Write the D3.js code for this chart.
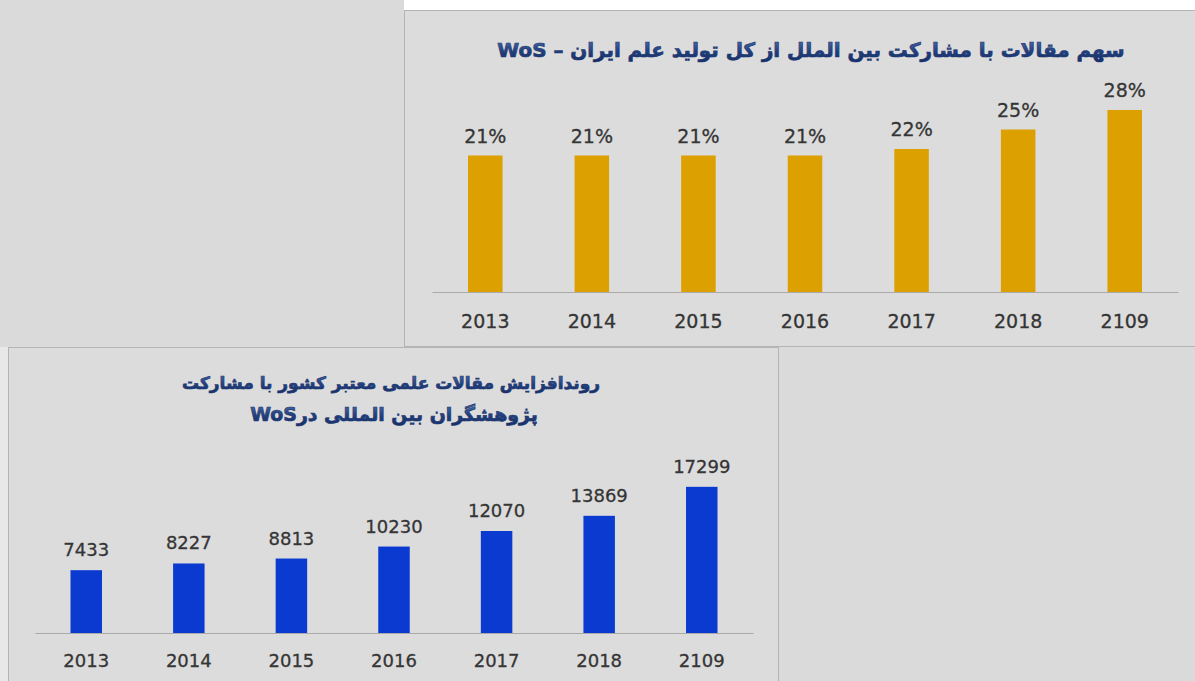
<!DOCTYPE html>
<html>
<head>
<meta charset="utf-8">
<script src="https://cdn.jsdelivr.net/npm/d3@7"></script>
<style>
  html, body { margin: 0; padding: 0; background: #dadada; }
  svg { display: block; }
  .tick text, .val { font-family: "DejaVu Sans", sans-serif; fill: #353535; stroke: #353535; stroke-width: 0.3; }
  .title { font-family: "DejaVu Sans", sans-serif; font-weight: bold; stroke: #1d3872; stroke-width: 0.7; }
</style>
</head>
<body>
<svg width="1195" height="681"></svg>
<script>
// data
const years = ["2013", "2014", "2015", "2016", "2017", "2018", "2109"];
const shareValues = [0.21, 0.21, 0.21, 0.21, 0.22, 0.25, 0.28];
const articleCounts = [7433, 8227, 8813, 10230, 12070, 13869, 17299];

const topTitle = "سهم مقالات با مشارکت بین الملل از کل تولید علم ایران – WoS";
const bottomTitle = [
  "روندافزایش  مقالات علمی معتبر کشور با مشارکت",
  "پژوهشگران بین المللی درWoS"
];

const svg = d3.select("svg");

// title gradient
const grad = svg.append("defs").append("linearGradient")
  .attr("id", "titleGrad")
  .attr("x1", 0).attr("y1", 0).attr("x2", 0).attr("y2", 1);
grad.append("stop").attr("offset", "0%").attr("stop-color", "#4f6fae");
grad.append("stop").attr("offset", "55%").attr("stop-color", "#223f7c");
grad.append("stop").attr("offset", "100%").attr("stop-color", "#162e66");

// backdrop and panels
svg.append("rect").attr("width", 1195).attr("height", 681).attr("fill", "#dadada");
svg.append("rect").attr("x", 404).attr("y", 0).attr("width", 791).attr("height", 10).attr("fill", "#ffffff");
svg.append("rect").attr("x", 0).attr("y", 347).attr("width", 8).attr("height", 334).attr("fill", "#e8e8e8");

svg.append("rect")
  .attr("x", 404.5).attr("y", 10.5).attr("width", 800).attr("height", 336)
  .attr("fill", "#dcdcdc").attr("stroke", "#b4b4b4");
svg.append("rect")
  .attr("x", 8.5).attr("y", 347.5).attr("width", 770).attr("height", 340)
  .attr("fill", "#dcdcdc").attr("stroke", "#b4b4b4");

// fit a title to a wanted width by its font size
function fitTitle(sel, width, base) {
  sel.attr("font-size", base);
  const len = sel.node().getComputedTextLength();
  sel.attr("font-size", (base * width) / len);
}

// ---- top chart: share of international collaboration
const x1 = d3.scaleBand().domain(years).range([432, 1178])
  .paddingInner(0.676).paddingOuter(0.338);
const y1 = d3.scaleLinear().domain([0, 0.30]).range([292, 97]);
const pct = d3.format(".0%");

const g1 = svg.append("g");

g1.selectAll(".bar")
  .data(years.map((d, i) => ({ year: d, v: shareValues[i] })))
  .enter()
  .append("rect")
  .attr("class", "bar")
  .attr("x", (d) => x1(d.year))
  .attr("y", (d) => y1(d.v))
  .attr("width", x1.bandwidth())
  .attr("height", (d) => y1(0) - y1(d.v))
  .attr("fill", "#dca000");

g1.append("g")
  .attr("transform", `translate(0,${y1(0)})`)
  .call(d3.axisBottom(x1).tickSize(0).tickPadding(23))
  .call((a) => a.select(".domain").attr("stroke", "#a9a9a9"))
  .selectAll("text")
  .attr("font-size", 19);

g1.selectAll(".val")
  .data(years.map((d, i) => ({ year: d, v: shareValues[i] })))
  .enter()
  .append("text")
  .attr("class", "val")
  .attr("x", (d) => x1(d.year) + x1.bandwidth() / 2)
  .attr("y", (d) => y1(d.v) - 13)
  .attr("text-anchor", "middle")
  .attr("font-size", 19)
  .text((d) => pct(d.v));

svg.append("text")
  .attr("class", "title")
  .attr("x", 811)
  .attr("y", 57)
  .attr("direction", "rtl")
  .attr("text-anchor", "middle")
  .attr("fill", "url(#titleGrad)")
  .text(topTitle)
  .call(fitTitle, 628, 23);

// ---- bottom chart: article counts
const x2 = d3.scaleBand().domain(years).range([35, 753])
  .paddingInner(0.693).paddingOuter(0.346);
const y2 = d3.scaleLinear().domain([0, 20000]).range([633, 464]);

const g2 = svg.append("g");

g2.selectAll(".bar")
  .data(years.map((d, i) => ({ year: d, v: articleCounts[i] })))
  .enter()
  .append("rect")
  .attr("class", "bar")
  .attr("x", (d) => x2(d.year))
  .attr("y", (d) => y2(d.v))
  .attr("width", x2.bandwidth())
  .attr("height", (d) => y2(0) - y2(d.v))
  .attr("fill", "#0a3ad0");

g2.append("g")
  .attr("transform", `translate(0,${y2(0)})`)
  .call(d3.axisBottom(x2).tickSize(0).tickPadding(21))
  .call((a) => a.select(".domain").attr("stroke", "#a9a9a9"))
  .selectAll("text")
  .attr("font-size", 18);

g2.selectAll(".val")
  .data(years.map((d, i) => ({ year: d, v: articleCounts[i] })))
  .enter()
  .append("text")
  .attr("class", "val")
  .attr("x", (d) => x2(d.year) + x2.bandwidth() / 2)
  .attr("y", (d) => y2(d.v) - 14)
  .attr("text-anchor", "middle")
  .attr("font-size", 18)
  .text((d) => d.v);

const titleLines = [
  { t: bottomTitle[0], x: 391, y: 389, w: 418 },
  { t: bottomTitle[1], x: 394, y: 421, w: 288 }
];
svg.selectAll(".btitle")
  .data(titleLines)
  .enter()
  .append("text")
  .attr("class", "title btitle")
  .attr("x", (d) => d.x)
  .attr("y", (d) => d.y)
  .attr("direction", "rtl")
  .attr("text-anchor", "middle")
  .attr("fill", "url(#titleGrad)")
  .text((d) => d.t)
  .each(function (d) {
    fitTitle(d3.select(this), d.w, 21);
  });
</script>
</body>
</html>
